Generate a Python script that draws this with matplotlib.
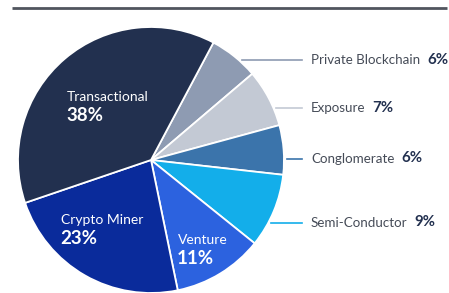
import numpy as np
import matplotlib
matplotlib.use("Agg")
import matplotlib.pyplot as plt

plt.rcParams['font.family'] = ['Lato', 'DejaVu Sans']

# data (clockwise from top)
labels = ["Private Blockchain", "Exposure", "Conglomerate", "Semi-Conductor",
          "Venture", "Crypto Miner", "Transactional"]
shares = [6, 7, 6, 9, 11, 23, 38]
colors = ["#8e9bb2", "#c3c9d4", "#3b74ab", "#13aeea",
          "#2c62df", "#0a2b9b", "#22304f"]

W, H = 449, 293
fig = plt.figure(figsize=(W / 100, H / 100), dpi=100)
ax = fig.add_axes([0, 0, 1, 1])

cx, cy, r = 151, H - 160, 133

ax.pie(shares, colors=colors, startangle=62, counterclock=False,
       center=(cx, cy), radius=r, frame=True,
       wedgeprops=dict(edgecolor="white", linewidth=1.3))

ax.set_xlim(0, W)
ax.set_ylim(0, H)
ax.set_aspect("auto")
ax.axis("off")

# top rule
ax.plot([12, 447], [H - 7.5, H - 7.5], color="#50555e", lw=2, solid_capstyle="butt")

# labels inside the big slices
inside = {"Transactional": (67, 97), "Crypto Miner": (61, 220), "Venture": (178, 240)}
for name, (x, y) in inside.items():
    i = labels.index(name)
    ax.text(x, H - y, name, color="white", fontsize=10, ha="left", va="center")
    ax.text(x - 1, H - y - 18.5, f"{shares[i]}%", color="white", fontsize=13.5,
            fontweight="bold", ha="left", va="center")

# callouts for the small slices
callout_y = {"Private Blockchain": 60, "Exposure": 108, "Conglomerate": 159,
             "Semi-Conductor": 223}
fig.canvas.draw()
rend = fig.canvas.get_renderer()
for name, y in callout_y.items():
    i = labels.index(name)
    yd = H - y
    x0 = cx + np.sqrt(r ** 2 - (yd - cy) ** 2) + 3
    ax.plot([x0, 302], [yd, yd], color=colors[i], lw=1.2)
    t = ax.text(311, yd, name, color="#454b57", fontsize=9.6, ha="left", va="center")
    bb = t.get_window_extent(renderer=rend)
    ax.text(bb.x1 + 7, yd + 0.5, f"{shares[i]}%", color="#22304f", fontsize=10.8,
            fontweight="bold", ha="left", va="center")

fig.savefig("out.png", dpi=100, facecolor="white")
